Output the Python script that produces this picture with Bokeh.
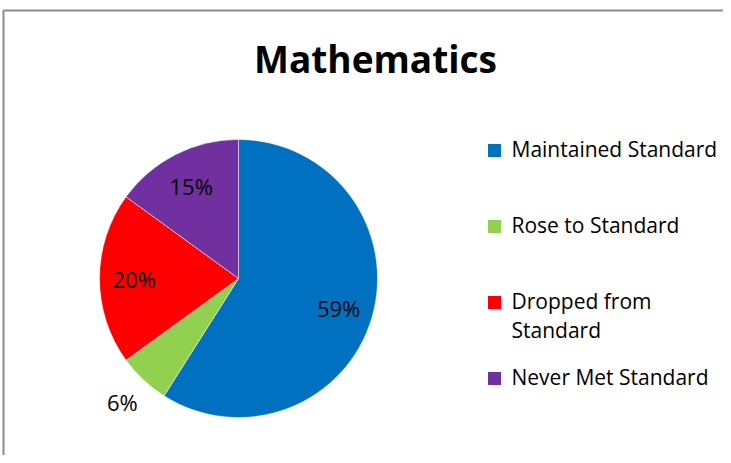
import math
from bokeh.plotting import figure
from bokeh.models import Range1d, ColumnDataSource
from bokeh.core.properties import value
from bokeh.embed import file_html
from bokeh.resources import INLINE

# ---- data ----
title = "Mathematics"
categories = ["Maintained Standard", "Rose to Standard", "Dropped from\nStandard", "Never Met Standard"]
percents = [59, 6, 20, 15]
colors = ["#0070C0", "#92D050", "#FF0000", "#7030A0"]

FONT = "Open Sans"
W, H = 723, 455

def py(y):  # canvas pixel y (from top) -> data y
    return H - y

p = figure(width=W, height=H, output_backend="svg", toolbar_location=None,
           x_range=Range1d(0, W), y_range=Range1d(0, H), min_border=0)
p.axis.visible = False
p.grid.visible = False
p.outline_line_color = None
p.background_fill_color = "white"

# chart border (left and top edges visible)
p.line(x=[3, 3, W + 5], y=[py(H + 5), py(10), py(10)], line_color="#8c8c8c", line_width=2)

# title
p.text(x=[375], y=[py(32)], text=[title], text_align="center", text_baseline="top",
       text_font=value(FONT), text_font_style="bold", text_font_size="37px", text_color="black")

# pie
cx, cy, R = 238, py(278), 139
total = sum(percents)
starts, ends, lx, ly, labels = [], [], [], [], []
cum = 0
for v in percents:
    a0 = math.pi / 2 - 2 * math.pi * cum / total
    cum += v
    a1 = math.pi / 2 - 2 * math.pi * cum / total
    starts.append(a0)
    ends.append(a1)
    mid = (a0 + a1) / 2
    frac = 0.75 if v >= 10 else 1.22
    lx.append(cx + R * frac * math.cos(mid))
    ly.append(cy + R * frac * math.sin(mid))
    labels.append(f"{v}%")

src = ColumnDataSource(dict(start=starts, end=ends, color=colors))
p.wedge(x=cx, y=cy, radius=R, radius_units="screen", start_angle="start", end_angle="end",
        direction="clock", fill_color="color", line_color="white", line_width=0.5, source=src)

p.text(x=lx, y=ly, text=labels, text_align="center", text_baseline="middle",
       text_font=value(FONT), text_font_size="22px", text_color="black")

# legend
sq_x = 494
row0, step = 150, 76
sy = [py(row0 + i * step) for i in range(len(categories))]
p.scatter(x=[sq_x] * len(categories), y=sy, marker="square", size=13,
          fill_color=colors, line_color=None)
p.text(x=[511] * len(categories), y=[v + 15.5 for v in sy], text=categories,
       text_align="left", text_baseline="top", text_line_height=1.05,
       text_font=value(FONT), text_font_size="21px", text_color="black")

open("out.html", "w").write(file_html(p, INLINE))
